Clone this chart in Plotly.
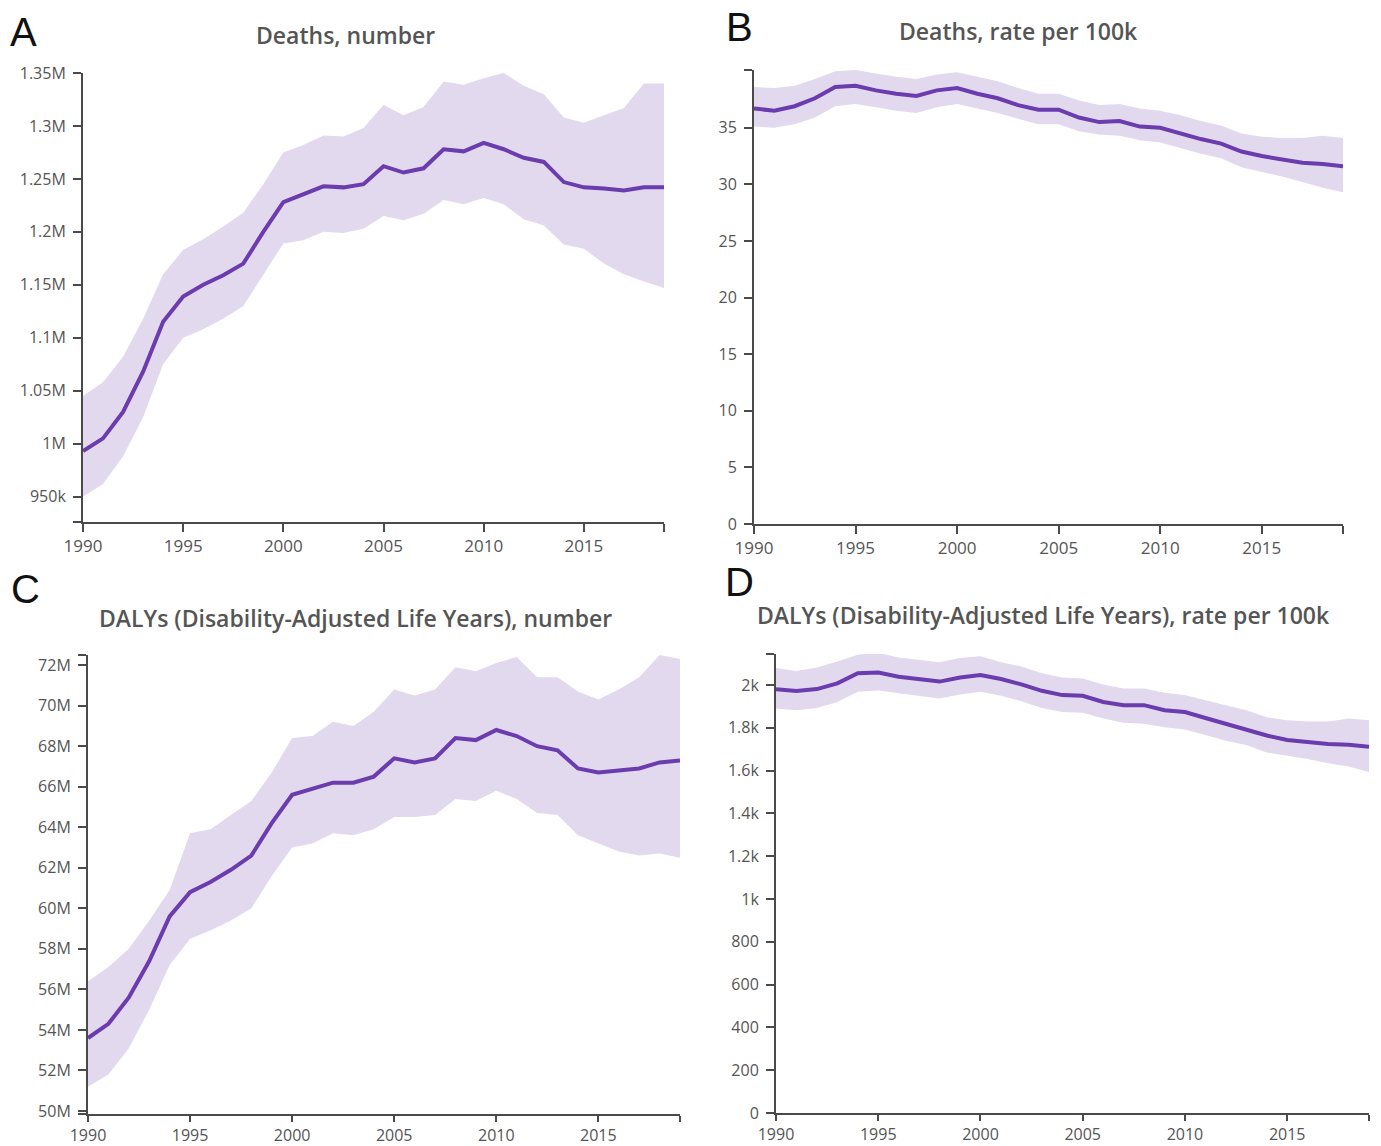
import plotly.graph_objects as go

W, H = 1381, 1146

years = [1990, 1991, 1992, 1993, 1994, 1995, 1996, 1997, 1998, 1999,
         2000, 2001, 2002, 2003, 2004, 2005, 2006, 2007, 2008, 2009,
         2010, 2011, 2012, 2013, 2014, 2015, 2016, 2017, 2018, 2019]

# Panel A: Deaths, number
deaths_num = [993000, 1005000, 1030000, 1068000, 1115000, 1139000, 1150000, 1159000, 1170000, 1200000,
              1228000, 1236000, 1243000, 1242000, 1245000, 1262000, 1256000, 1260000, 1278000, 1276000,
              1284000, 1278000, 1270000, 1266000, 1247000, 1242000, 1241000, 1239000, 1242000, 1242000]
deaths_num_upper = [1045000, 1058000, 1082000, 1118000, 1160000, 1183000, 1193000, 1205000, 1218000, 1245000,
                    1275000, 1282000, 1291000, 1290000, 1298000, 1320000, 1310000, 1318000, 1342000, 1339000,
                    1345000, 1350000, 1338000, 1330000, 1308000, 1303000, 1310000, 1317000, 1340000, 1340000]
deaths_num_lower = [950000, 962000, 988000, 1025000, 1075000, 1100000, 1108000, 1118000, 1130000, 1160000,
                    1189000, 1192000, 1200000, 1199000, 1203000, 1215000, 1211000, 1217000, 1230000, 1226000,
                    1232000, 1226000, 1212000, 1206000, 1188000, 1184000, 1170000, 1160000, 1153000, 1147000]

# Panel B: Deaths, rate per 100k
deaths_rate = [36.7, 36.5, 36.9, 37.6, 38.6, 38.7, 38.3, 38.0, 37.8, 38.3,
               38.5, 38.0, 37.6, 37.0, 36.6, 36.6, 35.9, 35.5, 35.6, 35.1,
               35.0, 34.5, 34.0, 33.6, 32.9, 32.5, 32.2, 31.9, 31.8, 31.6]
deaths_rate_upper = [38.6, 38.5, 38.7, 39.3, 40.0, 40.1, 39.8, 39.5, 39.3, 39.7,
                     39.9, 39.5, 39.1, 38.5, 38.0, 38.0, 37.4, 37.0, 37.1, 36.7,
                     36.5, 36.1, 35.6, 35.2, 34.5, 34.2, 34.1, 34.1, 34.3, 34.1]
deaths_rate_lower = [35.1, 35.0, 35.3, 35.9, 36.9, 37.1, 36.8, 36.5, 36.3, 36.8,
                     37.1, 36.7, 36.3, 35.8, 35.3, 35.3, 34.7, 34.4, 34.3, 33.9,
                     33.7, 33.2, 32.7, 32.3, 31.5, 31.1, 30.7, 30.2, 29.7, 29.3]

# Panel C: DALYs, number
dalys_num = [53.6e6, 54.3e6, 55.6e6, 57.4e6, 59.6e6, 60.8e6, 61.3e6, 61.9e6, 62.6e6, 64.2e6,
             65.6e6, 65.9e6, 66.2e6, 66.2e6, 66.5e6, 67.4e6, 67.2e6, 67.4e6, 68.4e6, 68.3e6,
             68.8e6, 68.5e6, 68.0e6, 67.8e6, 66.9e6, 66.7e6, 66.8e6, 66.9e6, 67.2e6, 67.3e6]
dalys_num_upper = [56.4e6, 57.1e6, 58.0e6, 59.4e6, 60.9e6, 63.7e6, 63.9e6, 64.6e6, 65.3e6, 66.7e6,
                   68.4e6, 68.5e6, 69.2e6, 69.0e6, 69.7e6, 70.8e6, 70.5e6, 70.8e6, 71.9e6, 71.7e6,
                   72.1e6, 72.4e6, 71.4e6, 71.4e6, 70.7e6, 70.3e6, 70.8e6, 71.4e6, 72.5e6, 72.3e6]
dalys_num_lower = [51.2e6, 51.8e6, 53.1e6, 55.0e6, 57.2e6, 58.5e6, 58.9e6, 59.4e6, 60.0e6, 61.6e6,
                   63.0e6, 63.2e6, 63.7e6, 63.6e6, 63.9e6, 64.5e6, 64.5e6, 64.6e6, 65.4e6, 65.3e6,
                   65.8e6, 65.4e6, 64.7e6, 64.6e6, 63.6e6, 63.2e6, 62.8e6, 62.6e6, 62.7e6, 62.5e6]

# Panel D: DALYs, rate per 100k
dalys_rate = [1980, 1972, 1981, 2008, 2055, 2058, 2039, 2028, 2016, 2035,
              2047, 2028, 2003, 1973, 1953, 1950, 1921, 1906, 1906, 1882,
              1874, 1846, 1819, 1795, 1764, 1743, 1732, 1724, 1721, 1712]
dalys_rate_upper = [2079, 2066, 2082, 2110, 2142, 2150, 2129, 2118, 2107, 2126,
                    2134, 2107, 2087, 2055, 2035, 2031, 2003, 1984, 1984, 1964,
                    1953, 1929, 1906, 1882, 1850, 1835, 1830, 1830, 1843, 1835]
dalys_rate_lower = [1890, 1882, 1893, 1921, 1969, 1975, 1961, 1950, 1937, 1956,
                    1969, 1950, 1924, 1893, 1874, 1871, 1843, 1824, 1819, 1803,
                    1792, 1767, 1740, 1720, 1685, 1669, 1654, 1635, 1619, 1594]

x_tickvals = [1990, 1995, 2000, 2005, 2010, 2015, 2019]
x_ticktext = ["1990", "1995", "2000", "2005", "2010", "2015", ""]

a_tickvals = [926000, 950000, 1000000, 1050000, 1100000, 1150000, 1200000, 1250000, 1300000, 1350000]
a_ticktext = ["", "950k", "1M", "1.05M", "1.1M", "1.15M", "1.2M", "1.25M", "1.3M", "1.35M"]
b_tickvals = [0, 5, 10, 15, 20, 25, 30, 35, 40.1]
b_ticktext = ["0", "5", "10", "15", "20", "25", "30", "35", ""]
c_tickvals = [49.85e6, 50e6, 52e6, 54e6, 56e6, 58e6, 60e6, 62e6, 64e6, 66e6, 68e6, 70e6, 72e6, 72.5e6]
c_ticktext = ["", "50M", "52M", "54M", "56M", "58M", "60M", "62M", "64M", "66M", "68M", "70M", "72M", ""]
d_tickvals = [0, 200, 400, 600, 800, 1000, 1200, 1400, 1600, 1800, 2000, 2145]
d_ticktext = ["0", "200", "400", "600", "800", "1k", "1.2k", "1.4k", "1.6k", "1.8k", "2k", ""]

titles = ["Deaths, number", "Deaths, rate per 100k",
          "DALYs (Disability-Adjusted Life Years), number",
          "DALYs (Disability-Adjusted Life Years), rate per 100k"]
letters = ["A", "B", "C", "D"]

LINE = "#6a3cae"
BAND = "#e3d9ef"
AXIS = "#4a4a4a"
TXT = "#555555"
FONT = "Open Sans"

def px_x(a, b):
    return [a / W, b / W]

def px_y(top, bottom):
    return [1 - bottom / H, 1 - top / H]

panels = [
    dict(mid=deaths_num, up=deaths_num_upper, lo=deaths_num_lower,
         xd=px_x(83, 664), yd=px_y(73, 522), yr=[926000, 1350000],
         tv=a_tickvals, tt=a_ticktext, title_xy=(345, 35), letter_xy=(23, 32),
         xfs=17, xtl=8),
    dict(mid=deaths_rate, up=deaths_rate_upper, lo=deaths_rate_lower,
         xd=px_x(754, 1343), yd=px_y(70, 524), yr=[0, 40.1],
         tv=b_tickvals, tt=b_ticktext, title_xy=(1018, 31), letter_xy=(740, 27),
         xfs=17, xtl=8),
    dict(mid=dalys_num, up=dalys_num_upper, lo=dalys_num_lower,
         xd=px_x(88, 680), yd=px_y(655, 1114), yr=[49.85e6, 72.5e6],
         tv=c_tickvals, tt=c_ticktext, title_xy=(355, 618), letter_xy=(25, 589),
         xfs=16, xtl=6),
    dict(mid=dalys_rate, up=dalys_rate_upper, lo=dalys_rate_lower,
         xd=px_x(776, 1369), yd=px_y(654, 1113), yr=[0, 2145],
         tv=d_tickvals, tt=d_ticktext, title_xy=(1043, 615), letter_xy=(740, 582),
         xfs=16, xtl=6),
]

fig = go.Figure()
annotations = []
for i, p in enumerate(panels):
    n = "" if i == 0 else str(i + 1)
    xa, ya = "x" + n, "y" + n
    fig.add_trace(go.Scatter(x=years, y=p["lo"], mode="lines", line=dict(width=0, color=BAND),
                             xaxis=xa, yaxis=ya, showlegend=False, hoverinfo="skip"))
    fig.add_trace(go.Scatter(x=years, y=p["up"], mode="lines", line=dict(width=0, color=BAND),
                             fill="tonexty", fillcolor=BAND,
                             xaxis=xa, yaxis=ya, showlegend=False, hoverinfo="skip"))
    fig.add_trace(go.Scatter(x=years, y=p["mid"], mode="lines", line=dict(width=4, color=LINE),
                             xaxis=xa, yaxis=ya, showlegend=False))
    fig.layout["xaxis" + n] = dict(
        domain=p["xd"], range=[1990, 2019], anchor=ya, automargin=False,
        tickmode="array", tickvals=x_tickvals, ticktext=x_ticktext,
        ticks="outside", ticklen=p["xtl"], tickwidth=2, tickcolor=AXIS,
        showline=True, linewidth=2, linecolor=AXIS, showgrid=False, zeroline=False,
        tickfont=dict(family=FONT, size=p["xfs"], color=TXT), ticklabelstandoff=0,
    )
    fig.layout["yaxis" + n] = dict(
        domain=p["yd"], range=p["yr"], anchor=xa, automargin=False,
        tickmode="array", tickvals=p["tv"], ticktext=p["tt"],
        ticks="outside", ticklen=8, tickwidth=2, tickcolor=AXIS,
        showline=True, linewidth=2, linecolor=AXIS, showgrid=False, zeroline=False,
        tickfont=dict(family=FONT, size=16, color=TXT), ticklabelstandoff=4,
    )
    tx, ty = p["title_xy"]
    annotations.append(dict(text=titles[i], x=tx / W, y=1 - ty / H,
                            xref="paper", yref="paper", xanchor="center", yanchor="middle",
                            showarrow=False,
                            font=dict(family=FONT, size=23, color=TXT, weight=600)))
    lx, ly = p["letter_xy"]
    annotations.append(dict(text=letters[i], x=lx / W, y=1 - ly / H,
                            xref="paper", yref="paper", xanchor="center", yanchor="middle",
                            showarrow=False, font=dict(family="Liberation Sans", size=40, color="#111111")))

fig.update_layout(width=W, height=H, margin=dict(l=0, r=0, t=0, b=0, pad=0),
                  paper_bgcolor="white", plot_bgcolor="white",
                  annotations=annotations, showlegend=False)

fig.write_html("out.html", config={"displayModeBar": False},
               post_script="document.body.style.margin='0px';document.body.style.overflow='hidden';"
                           "document.documentElement.style.overflow='hidden';")
